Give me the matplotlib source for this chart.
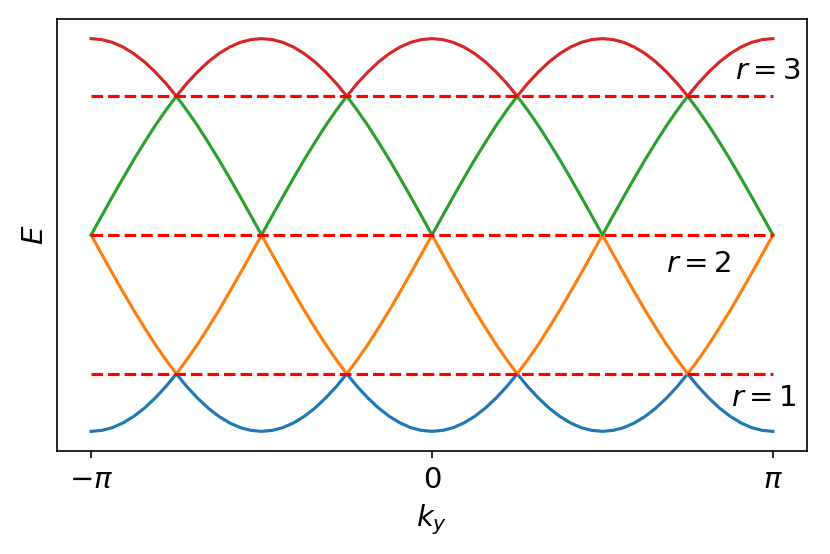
import numpy as np
import matplotlib
matplotlib.use("Agg")
import matplotlib.pyplot as plt

# k_y sample grid (steps of pi/32 from -pi to pi)
ky = np.linspace(-np.pi, np.pi, 65)

# band energies, one value per k_y sample
band1 = [
    -1.000, -0.995, -0.981, -0.957, -0.924, -0.882, -0.831, -0.773, -0.707, -0.773, -0.831, -0.882, -0.924, -0.957, -0.981, -0.995,
    -1.000, -0.995, -0.981, -0.957, -0.924, -0.882, -0.831, -0.773, -0.707, -0.773, -0.831, -0.882, -0.924, -0.957, -0.981, -0.995,
    -1.000, -0.995, -0.981, -0.957, -0.924, -0.882, -0.831, -0.773, -0.707, -0.773, -0.831, -0.882, -0.924, -0.957, -0.981, -0.995,
    -1.000, -0.995, -0.981, -0.957, -0.924, -0.882, -0.831, -0.773, -0.707, -0.773, -0.831, -0.882, -0.924, -0.957, -0.981, -0.995,
    -1.000,
]
band2 = [
    0.000, -0.098, -0.195, -0.290, -0.383, -0.471, -0.556, -0.634, -0.707, -0.634, -0.556, -0.471, -0.383, -0.290, -0.195, -0.098,
    0.000, -0.098, -0.195, -0.290, -0.383, -0.471, -0.556, -0.634, -0.707, -0.634, -0.556, -0.471, -0.383, -0.290, -0.195, -0.098,
    0.000, -0.098, -0.195, -0.290, -0.383, -0.471, -0.556, -0.634, -0.707, -0.634, -0.556, -0.471, -0.383, -0.290, -0.195, -0.098,
    0.000, -0.098, -0.195, -0.290, -0.383, -0.471, -0.556, -0.634, -0.707, -0.634, -0.556, -0.471, -0.383, -0.290, -0.195, -0.098,
    0.000,
]
band3 = [
    0.000, 0.098, 0.195, 0.290, 0.383, 0.471, 0.556, 0.634, 0.707, 0.634, 0.556, 0.471, 0.383, 0.290, 0.195, 0.098,
    0.000, 0.098, 0.195, 0.290, 0.383, 0.471, 0.556, 0.634, 0.707, 0.634, 0.556, 0.471, 0.383, 0.290, 0.195, 0.098,
    0.000, 0.098, 0.195, 0.290, 0.383, 0.471, 0.556, 0.634, 0.707, 0.634, 0.556, 0.471, 0.383, 0.290, 0.195, 0.098,
    0.000, 0.098, 0.195, 0.290, 0.383, 0.471, 0.556, 0.634, 0.707, 0.634, 0.556, 0.471, 0.383, 0.290, 0.195, 0.098,
    0.000,
]
band4 = [
    1.000, 0.995, 0.981, 0.957, 0.924, 0.882, 0.831, 0.773, 0.707, 0.773, 0.831, 0.882, 0.924, 0.957, 0.981, 0.995,
    1.000, 0.995, 0.981, 0.957, 0.924, 0.882, 0.831, 0.773, 0.707, 0.773, 0.831, 0.882, 0.924, 0.957, 0.981, 0.995,
    1.000, 0.995, 0.981, 0.957, 0.924, 0.882, 0.831, 0.773, 0.707, 0.773, 0.831, 0.882, 0.924, 0.957, 0.981, 0.995,
    1.000, 0.995, 0.981, 0.957, 0.924, 0.882, 0.831, 0.773, 0.707, 0.773, 0.831, 0.882, 0.924, 0.957, 0.981, 0.995,
    1.000,
]

# dashed levels and their labels
levels = [-0.707, 0.000, 0.707]
level_labels = [r"$r=1$", r"$r=2$", r"$r=3$"]
label_pos = [(0.878 * np.pi, -0.83), (0.685 * np.pi, -0.15), (0.89 * np.pi, 0.835)]

xtick_vals = [-np.pi, 0, np.pi]
xtick_text = [r"$-\pi$", r"$0$", r"$\pi$"]

fig = plt.figure(figsize=(830 / 150, 554 / 150), dpi=150)
ax = fig.add_axes([57 / 830, 1 - 451 / 554, 750 / 830, 432 / 554])

for band, col in zip([band1, band2, band3, band4],
                     ["tab:blue", "tab:orange", "tab:green", "tab:red"]):
    ax.plot(ky, band, color=col, lw=1.5)

for lev in levels:
    ax.plot([ky[0], ky[-1]], [lev, lev], "r--", lw=1.5)

for txt, (x, y) in zip(level_labels, label_pos):
    ax.text(x, y, txt, fontsize=14, ha="left", va="center")

ax.set_xticks(xtick_vals)
ax.set_xticklabels(xtick_text, fontsize=14)
ax.set_yticks([])
ax.set_xlabel(r"$k_y$", fontsize=14)
ax.set_ylabel(r"$E$", fontsize=14)

fig.savefig("out.png", dpi=150)
plt.close(fig)
